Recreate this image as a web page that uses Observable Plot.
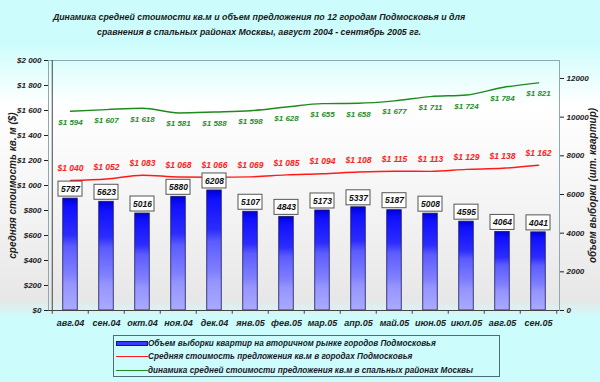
<!DOCTYPE html>
<html><head><meta charset="utf-8">
<script src="https://cdn.jsdelivr.net/npm/d3@7"></script>
<script src="https://cdn.jsdelivr.net/npm/@observablehq/plot@0.6"></script>
<style>
body{margin:0;}
#wrap{position:relative;width:600px;height:382px;overflow:hidden;font-family:"Liberation Sans",Arial,sans-serif;
background:linear-gradient(to bottom,#ccfcfc 0px,#ccfcfc 42px,#ffffff 105px,#f5f5f5 200px,#e7e7e7 300px,#ccfcfc 318px,#ccfcfc 382px);}
#title{position:absolute;left:0;top:10px;width:518px;text-align:center;font-size:8.8px;font-weight:bold;font-style:italic;color:#1a1a1a;line-height:15px;}
#chart{position:absolute;left:0;top:45px;}
#legend{position:absolute;left:113px;top:335px;width:387px;height:42px;border:1px solid #4d6b78;box-sizing:border-box;}
.row{position:absolute;left:0;height:13px;width:385px;font-size:8.2px;font-weight:bold;font-style:italic;color:#1a1a2a;white-space:nowrap;}
.sw{position:absolute;left:2px;width:32px;}
.tx{position:absolute;left:34px;top:0;line-height:13px;}
</style></head>
<body><div id="wrap">
<div id="title">Динамика средней стоимости кв.м и объем предложения по 12 городам Подмосковья и для<br>сравнения в спальных районах Москвы, август 2004 - сентябрь 2005 гг.</div>
<div id="chart"></div>
<div id="legend"></div>
</div>
<script>
const months = ["авг.04","сен.04","окт.04","ноя.04","дек.04","янв.05","фев.05","мар.05","апр.05","май.05","июн.05","июл.05","авг.05","сен.05"];
const volume = [5787,5623,5016,5880,6208,5107,4843,5173,5337,5187,5008,4595,4064,4041];
const priceRegion = [1040,1052,1083,1068,1066,1069,1085,1094,1108,1115,1113,1129,1138,1162];
const priceMoscow = [1594,1607,1618,1581,1588,1598,1628,1655,1658,1677,1711,1724,1784,1821];
const leftTicks = [0,200,400,600,800,1000,1200,1400,1600,1800,2000];
const rightTicks = [0,2000,4000,6000,8000,10000,12000];
const rightMax = 12930;
const seriesNames = [
  "Объем выборки квартир на вторичном рынке городов Подмосковья",
  "Средняя стоимость предложения кв.м в городах Подмосковья",
  "динамика средней стоимости предложения кв.м в спальных районах Москвы"
];
const leftTitle = "средняя стоимость кв. м ($)";
const rightTitle = "объем выборки (шт. квартир)";

const k = 2000 / rightMax;
const data = months.map((m, i) => ({m, vol: volume[i], red: priceRegion[i], green: priceMoscow[i]}));
const fmt$ = d => "$" + d3.format(",")(d).replace(/,/g, " ");
const W = 600, ML = 48, MR = 41;
const bw = (W - ML - MR) / months.length;
const font = {fontWeight: "bold", fontStyle: "italic"};

const chart = Plot.plot({
  width: W, height: 287, marginLeft: ML, marginRight: MR, marginTop: 15, marginBottom: 22,
  style: {background: "transparent", fontFamily: "'Liberation Sans', Arial, sans-serif", overflow: "visible", color: "#222"},
  x: {type: "band", domain: months, padding: 0, label: null},
  y: {domain: [0, 2000], label: null},
  marks: [
    Plot.frame({stroke: "#8fa9b3"}),
    Plot.barY(data, {x: "m", y: d => d.vol * k, fill: "url(#barGrad)", stroke: "#1a1a60", strokeWidth: 0.8, insetLeft: 10.75, insetRight: 10.75}),
    Plot.line(data, {x: "m", y: "red", stroke: "#ff1a1a", strokeWidth: 1.5, curve: "monotone-x"}),
    Plot.line(data, {x: "m", y: "green", stroke: "#1f8a1f", strokeWidth: 1.5, curve: "monotone-x"}),
    Plot.text(data, {x: "m", y: "red", text: d => fmt$(d.red), dy: -12, fill: "#ff2020", fontSize: 8.5, ...font}),
    Plot.text(data, {x: "m", y: "green", text: d => fmt$(d.green), dy: 11, fill: "#2a8c2a", fontSize: 8, ...font}),
    Plot.barY(data, {x: "m", y1: d => d.vol * k + 16, y2: d => d.vol * k + 136, fill: "white", stroke: "#555", strokeWidth: 1, insetLeft: 6, insetRight: 6}),
    Plot.text(data, {x: "m", y: d => d.vol * k + 76, text: d => String(d.vol), fill: "#111", fontSize: 8.5, ...font}),
    Plot.ruleY([0], {stroke: "#444"}),
    Plot.ruleX([months[0]], {dx: -bw / 2, stroke: "#444"}),
    Plot.ruleX(months, {dx: -bw / 2, y1: 0, y2: -30, stroke: "#444"}),
    Plot.ruleX([months[months.length - 1]], {dx: bw / 2, y1: 0, y2: -30, stroke: "#444"}),
    Plot.axisY(leftTicks, {anchor: "left", tickFormat: fmt$, tickSize: 4, tickPadding: 3, fontSize: 8, label: null, ...font}),
    Plot.axisY(rightTicks.map(t => t * k), {anchor: "right", tickFormat: d => String(Math.round(d / k)), tickSize: 4, tickPadding: 3, fontSize: 8, label: null, ...font}),
    Plot.axisX({tickSize: 0, tickPadding: 9, fontSize: 9, label: null, ...font}),
    Plot.text([leftTitle], {text: d => d, frameAnchor: "left", textAnchor: "middle", dx: -36, rotate: -90, fontSize: 10, fill: "#222", ...font}),
    Plot.text([rightTitle], {text: d => d, frameAnchor: "right", textAnchor: "middle", dx: 33, rotate: -90, fontSize: 10, fill: "#222", ...font})
  ]
});

const defs = d3.select(chart).insert("defs", ":first-child");
const g = defs.append("linearGradient").attr("id", "barGrad").attr("x1", 0).attr("y1", 0).attr("x2", 0).attr("y2", 1);
[[0, "#0000d8"], [0.08, "#1010ff"], [0.33, "#2c2cff"], [0.43, "#5c5cff"], [0.68, "#8080ff"], [0.76, "#9494ff"], [1, "#aaaaff"]]
  .forEach(([o, c]) => g.append("stop").attr("offset", o).attr("stop-color", c));
document.getElementById("chart").appendChild(chart);

const swatches = [
  '<span class="sw" style="top:4px;height:3px;background:#3a3aff;border:1px solid #1a1a60;box-sizing:content-box;width:30px;"></span>',
  '<span class="sw" style="top:6px;height:0;border-top:1.5px solid #ff1a1a;"></span>',
  '<span class="sw" style="top:6px;height:0;border-top:1.5px solid #1f8a1f;"></span>'
];
document.getElementById("legend").innerHTML = seriesNames.map((n, i) =>
  `<div class="row" style="top:${1 + i * 13.3}px">${swatches[i]}<span class="tx">${n}</span></div>`).join("");
</script>
</body></html>
